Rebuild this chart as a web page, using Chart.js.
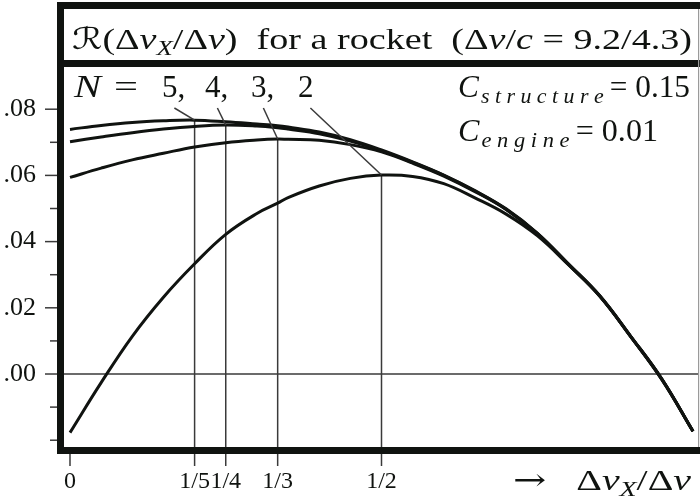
<!DOCTYPE html>
<html>
<head>
<meta charset="utf-8">
<script src="https://cdn.jsdelivr.net/npm/chart.js@4"></script>
<style>
  html, body { margin: 0; padding: 0; background: #fff; }
  canvas { display: block; }
</style>
</head>
<body>
<canvas id="chart" width="700" height="499"></canvas>
<script>
// Δv_X / Δv sample points
const xValues = [0, 0.05, 0.1, 0.15, 0.2, 0.25, 0.3, 1/3, 0.35, 0.4, 0.45, 0.5,
                 0.55, 0.6, 0.65, 0.7, 0.75, 0.8, 0.85, 0.9, 0.95, 1];

// R(Δv_X/Δv) for N = 5, 4, 3, 2 stages
const rN5 = [0.0739, 0.0751, 0.0760, 0.0765, 0.0767, 0.0762, 0.0755, 0.0750, 0.0746, 0.0731, 0.0708, 0.0677,
             0.0641, 0.0601, 0.0554, 0.0499, 0.0426, 0.0333, 0.0237, 0.0114, -0.0015, -0.0173];
const rN4 = [0.0702, 0.0716, 0.0729, 0.0740, 0.0748, 0.0752, 0.0749, 0.0744, 0.0740, 0.0726, 0.0704, 0.0675,
             0.0639, 0.0600, 0.0553, 0.0498, 0.0425, 0.0332, 0.0237, 0.0114, -0.0015, -0.0173];
const rN3 = [0.0594, 0.0622, 0.0647, 0.0667, 0.0686, 0.0699, 0.0707, 0.0710, 0.0709, 0.0706, 0.0693, 0.0671,
             0.0637, 0.0598, 0.0551, 0.0497, 0.0424, 0.0331, 0.0236, 0.0113, -0.0016, -0.0173];
const rN2 = [-0.0177, -0.0026, 0.0114, 0.0232, 0.0333, 0.0422, 0.0485, 0.0516, 0.0533, 0.0568, 0.0591, 0.0601,
             0.0597, 0.0575, 0.0532, 0.0483, 0.0418, 0.0330, 0.0236, 0.0113, -0.0017, -0.0173];

const stageCounts = [5, 4, 3, 2];
const stageSeries = [rN5, rN4, rN3, rN2];

const xTickValues = [0, 1/5, 1/4, 1/3, 1/2];
const xTickLabels = ['0', '1/5', '1/4', '1/3', '1/2'];
const yTickValues = [-0.02, -0.01, 0, 0.01, 0.02, 0.03, 0.04, 0.05, 0.06, 0.07, 0.08];
const yTickLabels = ['', '', '.00', '', '.02', '', '.04', '', '.06', '', '.08'];

const SERIF = '"Liberation Serif", "Times New Roman", Times, "Nimbus Roman", serif';
const MATHSYM = '"DejaVu Serif", "DejaVu Sans", serif';
const INK = '#101310';
const THIN = '#3a3a3a';

function fontOf(size, italic, family) {
  return (italic ? 'italic ' : '') + size + 'px ' + (family || SERIF);
}

// Draws a run of math-style text segments, optionally stretched to fill [x0, x1].
function drawRich(ctx, segs, x0, x1, baseline, size) {
  let total = 0;
  segs.forEach(s => {
    const sz = s.sub ? size * 0.7 : size;
    ctx.font = fontOf(sz, s.it, s.fam);
    s.w = ctx.measureText(s.t).width + (s.gap || 0);
    total += s.w;
  });
  const sx = x1 != null ? (x1 - x0) / total : 1;
  ctx.save();
  ctx.translate(x0, baseline);
  ctx.scale(sx, 1);
  ctx.fillStyle = INK;
  ctx.textBaseline = 'alphabetic';
  ctx.textAlign = 'left';
  let x = 0;
  segs.forEach(s => {
    const sz = s.sub ? size * 0.7 : size;
    ctx.font = fontOf(sz, s.it, s.fam);
    ctx.fillText(s.t, x, s.sub ? size * 0.2 : 0);
    x += s.w;
  });
  ctx.restore();
}

function peakIndex(n) {
  let best = 0;
  xValues.forEach((v, i) => {
    if (Math.abs(v - 1 / n) < Math.abs(xValues[best] - 1 / n)) best = i;
  });
  return best;
}

const guides = {
  id: 'guides',
  beforeDatasetsDraw(chart) {
    const { ctx, chartArea: ca, scales: { x, y } } = chart;
    ctx.save();
    ctx.strokeStyle = THIN;
    ctx.lineWidth = 1.5;
    // zero line
    const y0 = y.getPixelForValue(0);
    ctx.beginPath();
    ctx.moveTo(ca.left, y0);
    ctx.lineTo(ca.right, y0);
    ctx.stroke();
    // drop lines from each optimum down to the axis
    stageCounts.forEach((n, k) => {
      const i = peakIndex(n);
      const px = x.getPixelForValue(1 / n);
      const py = y.getPixelForValue(stageSeries[k][i]);
      ctx.beginPath();
      ctx.moveTo(px, py);
      ctx.lineTo(px, ca.bottom);
      ctx.stroke();
    });
    ctx.restore();
  },
  afterDraw(chart) {
    const { ctx, chartArea: ca, scales: { x, y } } = chart;
    ctx.save();

    // tick marks
    ctx.strokeStyle = THIN;
    ctx.lineWidth = 1.5;
    const frameL = ca.left - 7;
    yTickValues.forEach((v, i) => {
      const py = y.getPixelForValue(v);
      const len = yTickLabels[i] ? 12 : 7;
      ctx.beginPath();
      ctx.moveTo(frameL - len, py);
      ctx.lineTo(frameL, py);
      ctx.stroke();
    });
    xTickValues.forEach(v => {
      const px = x.getPixelForValue(v);
      ctx.beginPath();
      ctx.moveTo(px, ca.bottom);
      ctx.lineTo(px, ca.bottom + 19);
      ctx.stroke();
    });

    // frame
    ctx.fillStyle = INK;
    const right = chart.width;
    ctx.fillRect(frameL, 2, right - frameL, 7);          // top edge
    ctx.fillRect(frameL, 2, 7, ca.bottom + 7 - 2);       // left edge
    ctx.fillRect(frameL, ca.top - 7, right - frameL, 7); // title separator
    ctx.fillRect(frameL, ca.bottom, right - frameL, 7);  // bottom edge
    ctx.fillStyle = '#9a9a9a';
    ctx.fillRect(ca.right - 1, 9, 1.2, ca.bottom - 9);   // thin right edge

    // title
    drawRich(ctx, [
      { t: 'ℛ', fam: MATHSYM }, { t: '(Δ' }, { t: 'v', it: true }, { t: 'X', it: true, sub: true },
      { t: '/Δ' }, { t: 'v', it: true }, { t: ')  for a rocket  (Δ' }, { t: 'v', it: true },
      { t: '/' }, { t: 'c', it: true }, { t: ' = 9.2/4.3)' }
    ], 72, 692, 49, 30);

    // stage labels with leaders
    drawRich(ctx, [{ t: 'N', it: true }], 74, 101, 97, 31);
    drawRich(ctx, [{ t: '=' }], 114, 138, 97, 31);
    const labelX = [162, 205, 251, 298];
    ctx.font = fontOf(31, false);
    const digitW = ctx.measureText('5').width;
    stageCounts.forEach((n, k) => {
      const txt = n + (k < stageCounts.length - 1 ? ',' : '');
      drawRich(ctx, [{ t: txt }], labelX[k], null, 97, 31);
      const i = peakIndex(n);
      const px = x.getPixelForValue(1 / n);
      const py = y.getPixelForValue(stageSeries[k][i]);
      ctx.strokeStyle = THIN;
      ctx.lineWidth = 1.5;
      ctx.beginPath();
      ctx.moveTo(labelX[k] + digitW * 0.8, 108);
      ctx.lineTo(px, py);
      ctx.stroke();
    });

    // parameters
    drawRich(ctx, [
      { t: 'C', it: true, gap: 2 }, { t: 's t r u c t u r e', it: true, sub: true, gap: 6 }, { t: '= 0.15' }
    ], 458, 690, 97, 31);
    drawRich(ctx, [
      { t: 'C', it: true, gap: 2 }, { t: 'e n g i n e', it: true, sub: true, gap: 6 }, { t: '= 0.01' }
    ], 458, 658, 141, 31);

    // axis caption
    drawRich(ctx, [
      { t: '→', fam: MATHSYM }, { t: '   Δ' }, { t: 'v', it: true }, { t: 'X', it: true, sub: true },
      { t: '/Δ' }, { t: 'v', it: true }
    ], 513, 691, 490, 30);

    ctx.restore();
  }
};

const makeSeries = (vals, n) => ({
  label: 'N = ' + n,
  data: xValues.map((xv, i) => ({ x: xv, y: vals[i] })),
  borderColor: INK,
  borderWidth: 3,
  pointRadius: 0,
  fill: false,
  tension: 0.4
});

new Chart(document.getElementById('chart'), {
  type: 'line',
  data: {
    datasets: stageCounts.map((n, k) => makeSeries(stageSeries[k], n))
  },
  options: {
    responsive: false,
    animation: false,
    devicePixelRatio: 1,
    layout: { padding: { top: 67, right: 1, left: 0, bottom: 0 } },
    plugins: { legend: { display: false }, tooltip: { enabled: false }, title: { display: false } },
    scales: {
      x: {
        type: 'linear',
        min: -0.00963,
        max: 1.00963,
        afterBuildTicks: axis => { axis.ticks = xTickValues.map(v => ({ value: v })); },
        afterFit: axis => { axis.height = 52; },
        grid: { display: false, drawTicks: false },
        border: { display: false },
        ticks: {
          autoSkip: false,
          maxRotation: 0,
          padding: 20,
          color: INK,
          font: { family: SERIF, size: 24 },
          callback: (v, i) => xTickLabels[i]
        }
      },
      y: {
        type: 'linear',
        min: -0.02205,
        max: 0.09275,
        afterBuildTicks: axis => { axis.ticks = yTickValues.map(v => ({ value: v })); },
        afterFit: axis => { axis.width = 64; },
        grid: { display: false, drawTicks: false },
        border: { display: false },
        ticks: {
          autoSkip: false,
          padding: 28,
          color: INK,
          font: { family: SERIF, size: 26 },
          callback: (v, i) => yTickLabels[i]
        }
      }
    }
  },
  plugins: [guides]
});
</script>
</body>
</html>
